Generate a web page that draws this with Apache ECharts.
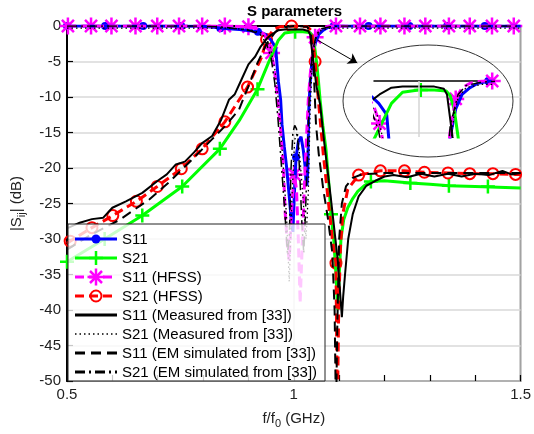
<!DOCTYPE html>
<html><head><meta charset="utf-8">
<script src="https://cdn.jsdelivr.net/npm/echarts@6/dist/echarts.min.js"></script>
<style>html,body{margin:0;padding:0;background:#fff}#c{width:534px;height:434px}</style>
</head><body><div id="c"></div>
<script>
// ---------------- data ----------------
const titleText = 'S parameters';
const xTickLabels = ['0.5', '1', '1.5'];
const yTickMin = -50, yTickMax = 0, yTickStep = 5;
const legendNames = ['S11', 'S21', 'S11 (HFSS)', 'S21 (HFSS)',
  'S11 (Measured from [33])', 'S21 (Measured from [33])',
  'S11 (EM simulated from [33])', 'S21 (EM simulated from [33])'];

// S11 (blue)
const s11F  = [0.5, 0.6, 0.7, 0.8, 0.841, 0.88, 0.922, 0.938, 0.95, 0.96, 0.966, 0.971, 0.974, 0.979, 0.984, 0.99, 0.995, 0.998, 1.001, 1.005, 1.01, 1.016, 1.021, 1.025, 1.027, 1.029, 1.031, 1.033, 1.036, 1.04, 1.047, 1.055, 1.065, 1.075, 1.09, 1.2, 1.3, 1.4, 1.5];
const s11Db = [0, 0, 0, -0.05, -0.3, -0.5, -0.8, -1.2, -2, -3, -7.8, -10.4, -13.9, -17, -19.8, -24, -27.7, -29, -24, -18.5, -16.3, -15.6, -17.5, -19.8, -22, -22.5, -20, -12, -8, -5, -2.5, -1.2, -0.6, -0.2, 0, 0, 0, 0, 0];
const s11MarkF  = [0.5, 0.584, 0.668, 0.752, 0.838, 0.921, 1.005, 1.088, 1.165, 1.255, 1.338, 1.421];
const s11MarkDb = [0, 0, 0, 0, -0.3, -0.8, -18.5, 0, 0, 0, 0, 0];

// S21 (green)
const s21F  = [0.5, 0.583, 0.666, 0.754, 0.837, 0.88, 0.92, 0.944, 0.966, 0.98, 1.0, 1.02, 1.035, 1.04, 1.045, 1.05, 1.054, 1.058, 1.064, 1.071, 1.077, 1.082, 1.088, 1.093, 1.097, 1.101, 1.104, 1.11, 1.119, 1.13, 1.141, 1.155, 1.17, 1.2, 1.257, 1.3, 1.342, 1.4, 1.45, 1.5];
const s21Db = [-33.2, -30, -26.7, -22.6, -17.3, -13.3, -8.9, -5.2, -2.0, -1.0, -0.8, -0.8, -0.9, -1.3, -2.5, -5, -7.5, -10.4, -14, -17.4, -22, -26.5, -30, -35, -40, -34, -30, -27.3, -25.6, -24.3, -23.3, -22.5, -21.9, -21.8, -22.1, -22.3, -22.5, -22.6, -22.7, -22.8];
const s21MarkF  = [0.5, 0.583, 0.666, 0.754, 0.837, 0.92, 1.003, 1.082, 1.17, 1.257, 1.342, 1.428];
const s21MarkDb = [-33.2, -30, -26.7, -22.6, -17.3, -8.9, -0.8, -26.5, -21.9, -22.1, -22.5, -22.6];

// S11 (HFSS) (magenta)
const s11hF  = [0.5, 0.7, 0.85, 0.9, 0.92, 0.935, 0.945, 0.951, 0.957, 0.963, 0.97, 0.977, 0.981, 0.986, 0.99, 0.995, 1.001, 1.006, 1.01, 1.014, 1.018, 1.021, 1.025, 1.032, 1.036, 1.04, 1.047, 1.055, 1.065, 1.08, 1.1, 1.2, 1.3, 1.4, 1.5];
const s11hDb = [0, 0, 0, -0.1, -0.4, -1.2, -2.5, -3.8, -6, -9.5, -13.9, -19.8, -26.3, -31, -33, -26, -20.9, -23, -30, -39, -32, -26.8, -19.8, -10.4, -7, -4.5, -1.6, -0.6, -0.2, 0, 0, 0, 0, 0, 0];
const s11hMarkF  = [0.502, 0.553, 0.598, 0.651, 0.699, 0.747, 0.798, 0.848, 0.9, 0.951, 1.001, 1.047, 1.093, 1.146, 1.191, 1.244, 1.29, 1.342, 1.388, 1.437, 1.485];
const s11hMarkDb = [0, 0, 0, 0, 0, 0, 0, 0, -0.1, -3.8, -20.9, -1.6, 0, 0, 0, 0, 0, 0, 0, 0, 0];

// S21 (HFSS) (red)
const s21hF  = [0.5, 0.507, 0.555, 0.601, 0.653, 0.699, 0.752, 0.798, 0.848, 0.898, 0.929, 0.94, 0.955, 0.97, 0.995, 1.03, 1.038, 1.042, 1.047, 1.055, 1.065, 1.075, 1.085, 1.093, 1.096, 1.099, 1.103, 1.108, 1.119, 1.143, 1.191, 1.244, 1.288, 1.34, 1.388, 1.439, 1.489, 1.5];
const s21hDb = [-30.6, -30.3, -28.4, -26.7, -24.7, -22.6, -20.1, -17.3, -13.5, -8.6, -4.4, -1.9, -0.5, -0.1, 0, -0.1, -0.6, -2, -5, -11, -18, -24, -30, -33.4, -55, -40, -31, -26.5, -23, -21, -20.4, -20.4, -20.6, -20.7, -20.8, -20.8, -20.9, -20.9];
const s21hMarkF  = [0.507, 0.555, 0.601, 0.653, 0.699, 0.752, 0.798, 0.848, 0.898, 0.94, 0.995, 1.047, 1.093, 1.143, 1.191, 1.244, 1.288, 1.34, 1.388, 1.439, 1.489];
const s21hMarkDb = [-30.3, -28.4, -26.7, -24.7, -22.6, -20.1, -17.3, -13.5, -8.6, -1.9, 0, -5, -33.4, -21, -20.4, -20.4, -20.6, -20.7, -20.8, -20.8, -20.9];

// Measured from [33] (solid black)
const measS11F  = [0.5, 0.528, 0.555, 0.58, 0.6, 0.63, 0.666, 0.7, 0.72, 0.74, 0.76, 0.78, 0.798, 0.82, 0.84, 0.857, 0.87, 0.885, 0.9, 0.915, 0.927, 0.94, 0.951, 0.966, 0.98, 1.0, 1.02, 1.032, 1.036, 1.043, 1.05, 1.058, 1.069, 1.082, 1.097, 1.106, 1.109, 1.113, 1.12, 1.13, 1.143, 1.16, 1.18, 1.2, 1.22, 1.25, 1.28, 1.31, 1.34, 1.37, 1.4, 1.43, 1.46, 1.48, 1.5];
const measS11Db = [-28.5, -27.7, -27.2, -27, -25.6, -24.7, -23.5, -21.8, -20.9, -19.5, -19.1, -17.8, -16.5, -15.5, -13.2, -10.4, -9.6, -7.5, -5.4, -4.3, -2.9, -1.8, -1.2, -0.6, -0.5, -0.5, -0.5, -0.7, -1.2, -5, -8.5, -11, -17.4, -24.4, -33, -41, -38, -35, -30, -26.5, -24, -22.5, -21.8, -21.2, -21.0, -21.3, -20.8, -21.2, -20.8, -21.2, -20.8, -21.0, -20.4, -20.9, -20.7];
// Measured from [33] (dotted black)
const measS21F  = [0.5, 0.85, 0.9, 0.93, 0.948, 0.958, 0.966, 0.975, 0.984, 0.99, 0.996, 1.002, 1.008, 1.014, 1.02, 1.027, 1.032, 1.036, 1.04, 1.045, 1.05, 1.06, 1.08, 1.5];
const measS21Db = [-0.3, -0.3, -0.5, -1, -3, -6, -10.4, -18, -26.8, -36, -24, -16, -15, -19, -24, -30, -23.5, -12, -6, -3, -1.5, -0.6, -0.3, -0.3];
// EM simulated from [33] (dashed black)
const emS11F  = [0.5, 0.55, 0.616, 0.682, 0.725, 0.776, 0.819, 0.85, 0.879, 0.9, 0.92, 0.94, 0.96, 0.975, 1.0, 1.03, 1.038, 1.043, 1.049, 1.055, 1.065, 1.075, 1.085, 1.09, 1.093, 1.096, 1.1, 1.106, 1.115, 1.13, 1.15, 1.2, 1.3, 1.4, 1.5];
const emS11Db = [-31.5, -29.5, -27.3, -24.4, -22, -18.8, -16, -14, -11.8, -8.5, -5.2, -2.5, -0.8, -0.2, 0, -0.1, -1.2, -5, -13.9, -18, -23, -27, -32, -40, -55, -42, -30, -25, -22.6, -21.4, -20.9, -20.7, -20.7, -20.7, -20.7];
// EM simulated from [33] (dash-dot black)
const emS21F  = [0.5, 0.8, 0.85, 0.9, 0.925, 0.94, 0.95, 0.958, 0.965, 0.972, 0.98, 0.986, 0.99, 0.994, 0.998, 1.002, 1.006, 1.01, 1.014, 1.018, 1.022, 1.026, 1.03, 1.034, 1.04, 1.05, 1.06, 1.08, 1.1, 1.5];
const emS21Db = [0, 0, -0.2, -0.6, -1.1, -2.5, -4.5, -8, -13, -19, -26, -32, -30, -20, -15, -14, -14.5, -17, -22, -28, -32, -26, -18, -10, -4, -1.2, -0.4, -0.1, 0, 0];

// ---------------- helpers ----------------
const FONT = '"Liberation Sans", Arial, Helvetica, sans-serif';
const pairs = (a, b) => a.map((v, i) => [v, b[i]]);
const ASTER = 'path://M0,-10L0,10M-10,0L10,0M-7.07,-7.07L7.07,7.07M-7.07,7.07L7.07,-7.07';
const PLUS = 'path://M0,-10L0,10M-10,0L10,0';

const curves = [
  {name: legendNames[0], f: s11F, d: s11Db, mf: s11MarkF, md: s11MarkDb, color: '#0000ff', w: 3, dash: 'solid',
    sym: 'circle', size: 8, fill: '#0000ff', bw: 0, inset: true},
  {name: legendNames[1], f: s21F, d: s21Db, mf: s21MarkF, md: s21MarkDb, color: '#00ff00', w: 3, dash: 'solid',
    sym: PLUS, size: 14, fill: 'rgba(0,0,0,0)', bw: 2.5, inset: true},
  {name: legendNames[2], f: s11hF, d: s11hDb, mf: s11hMarkF, md: s11hMarkDb, color: '#ff00ff', w: 3, dash: [9, 5],
    sym: ASTER, size: 17, fill: 'rgba(0,0,0,0)', bw: 2.5, inset: true},
  {name: legendNames[3], f: s21hF, d: s21hDb, mf: s21hMarkF, md: s21hMarkDb, color: '#ff0000', w: 3, dash: [9, 5],
    sym: 'circle', size: 11, fill: 'rgba(0,0,0,0)', bw: 2, inset: false},
  {name: legendNames[4], f: measS11F, d: measS11Db, color: '#000', w: 2, dash: 'solid', inset: true},
  {name: legendNames[5], f: measS21F, d: measS21Db, color: '#000', w: 1.3, dash: [1.5, 3], inset: true},
  {name: legendNames[6], f: emS11F, d: emS11Db, color: '#000', w: 2, dash: [10, 6], inset: false},
  {name: legendNames[7], f: emS21F, d: emS21Db, color: '#000', w: 1.5, dash: [10, 4, 2, 4], inset: true}
];

function buildSeries(xi, yi, insetOnly) {
  const out = [];
  curves.forEach(c => {
    if (insetOnly && !c.inset) return;
    out.push({type: 'line', name: c.name, xAxisIndex: xi, yAxisIndex: yi, data: pairs(c.f, c.d),
      showSymbol: false, symbol: 'none', smooth: false, silent: true, clip: true,
      lineStyle: {color: c.color, width: c.w, type: c.dash, cap: 'butt'}});
    if (c.mf) {
      out.push({type: 'scatter', name: c.name, xAxisIndex: xi, yAxisIndex: yi, data: pairs(c.mf, c.md),
        symbol: c.sym, symbolSize: c.size, silent: true, clip: true,
        itemStyle: {color: c.fill, borderColor: c.color, borderWidth: c.bw, opacity: 1}});
    }
  });
  return out;
}

const series = buildSeries(0, 0, false).concat(buildSeries(2, 1, true));
// arrow pointing to the zoomed view
series.push({type: 'line', xAxisIndex: 0, yAxisIndex: 0, data: [], silent: true,
  markLine: {silent: true, symbol: ['none', 'arrow'], symbolSize: 9, label: {show: false},
    lineStyle: {color: '#000', width: 1, type: 'solid'},
    data: [[{coord: [1.052, -1.97]}, {coord: [1.14, -5.2]}]]}});
// grid line at f/f0 = 1 inside zoomed view
series.push({type: 'line', xAxisIndex: 2, yAxisIndex: 1, data: [], silent: true, z: 1,
  markLine: {silent: true, symbol: ['none', 'none'], label: {show: false},
    lineStyle: {color: '#d4d4d4', width: 1.5, type: 'solid'}, data: [{xAxis: 1}]}});

// ---------------- legend (graphic) ----------------
const LX = 68, LY = 224, LW = 257, LH = 157;
const g = [{type: 'rect', z: 100, shape: {x: LX, y: LY, width: LW, height: LH},
  style: {fill: 'rgba(255,255,255,0.78)', stroke: '#222', lineWidth: 1}}];
curves.forEach((c, i) => {
  const y = 239 + i * 19;
  g.push({type: 'line', z: 101, shape: {x1: 75, y1: y, x2: 117, y2: y},
    style: {stroke: c.color, lineWidth: c.w === 1.3 ? 1.3 : 3, lineDash: c.dash === 'solid' ? null : c.dash}});
  const cx = 96;
  if (i === 0) g.push({type: 'circle', z: 102, shape: {cx, cy: y, r: 4.5}, style: {fill: c.color}});
  if (i === 1) {
    g.push({type: 'line', z: 102, shape: {x1: cx - 7, y1: y, x2: cx + 7, y2: y}, style: {stroke: c.color, lineWidth: 2.5}});
    g.push({type: 'line', z: 102, shape: {x1: cx, y1: y - 7, x2: cx, y2: y + 7}, style: {stroke: c.color, lineWidth: 2.5}});
  }
  if (i === 2) {
    [[8.5, 0], [0, 8.5], [6, 6], [6, -6]].forEach(([dx, dy]) =>
      g.push({type: 'line', z: 102, shape: {x1: cx - dx, y1: y - dy, x2: cx + dx, y2: y + dy}, style: {stroke: c.color, lineWidth: 2.5}}));
  }
  if (i === 3) g.push({type: 'circle', z: 102, shape: {cx, cy: y, r: 5.5}, style: {fill: 'none', stroke: c.color, lineWidth: 2}});
  g.push({type: 'text', z: 102, style: {text: c.name, x: 122, y: y + 1, fill: '#000', font: '15px ' + FONT, verticalAlign: 'middle'}});
});
g.push({type: 'ellipse', z: 50, shape: {cx: 428, cy: 101, rx: 85, ry: 56}, style: {fill: 'none', stroke: '#333', lineWidth: 1}});

// ---------------- chart ----------------
const chart = echarts.init(document.getElementById('c'), null, {renderer: 'canvas'});
const axisText = {fontSize: 15, color: '#222', fontFamily: FONT};
chart.setOption({
  animation: false,
  backgroundColor: '#fff',
  title: {text: titleText, left: 247, top: 4, padding: 0,
    textStyle: {fontSize: 15, fontWeight: 'bold', color: '#000', fontFamily: FONT}},
  grid: [
    {left: 67, top: 26, width: 457, height: 355, show: true, borderColor: '#000', borderWidth: 1.5, backgroundColor: 'transparent'},
    {left: 374, top: 81, width: 119, height: 56, show: false}
  ],
  xAxis: [
    {type: 'value', gridIndex: 0, min: 0.5, max: 1.5, interval: 0.5,
      axisLine: {show: true, lineStyle: {color: '#000', width: 2}},
      axisTick: {show: false},
      axisLabel: Object.assign({margin: 6, formatter: (v) => xTickLabels[Math.round((v - 0.5) / 0.5)] || ''}, axisText),
      splitLine: {show: true, lineStyle: {color: '#d9d9d9', width: 1.5}},
      name: '{a|f/f}{b|0}{a| (GHz)}', nameLocation: 'middle', nameGap: 28,
      nameTextStyle: {rich: {a: {fontSize: 15, color: '#222', fontFamily: FONT},
        b: {fontSize: 11, color: '#222', fontFamily: FONT, padding: [9, 0, 0, 0]}}}},
    {type: 'value', gridIndex: 0, min: 0.5, max: 1.5, interval: 0.1, position: 'bottom',
      axisLine: {show: false}, axisLabel: {show: false}, splitLine: {show: false},
      axisTick: {show: true, inside: true, length: 6, lineStyle: {color: '#000', width: 1.2}}},
    {type: 'value', gridIndex: 1, min: 0.944, max: 1.094, position: 'top',
      axisLine: {show: true, lineStyle: {color: '#000', width: 1.5}}, axisTick: {show: false},
      axisLabel: {show: false}, splitLine: {show: false}}
  ],
  yAxis: [
    {type: 'value', gridIndex: 0, min: yTickMin, max: yTickMax, interval: yTickStep,
      axisLine: {show: true, lineStyle: {color: '#000', width: 2}},
      axisTick: {show: true, inside: true, length: 6, lineStyle: {color: '#000', width: 1.2}},
      axisLabel: Object.assign({margin: 6}, axisText),
      splitLine: {show: true, lineStyle: {color: '#d9d9d9', width: 1.5}},
      name: '{a||S}{b|ij}{a|| (dB)}', nameLocation: 'middle', nameGap: 40,
      nameTextStyle: {rich: {a: {fontSize: 15, color: '#222', fontFamily: FONT},
        b: {fontSize: 11, color: '#222', fontFamily: FONT, padding: [9, 0, 0, 0]}}}},
    {type: 'value', gridIndex: 1, min: -5, max: 0, show: false}
  ],
  graphic: g,
  series: series
});
</script></body></html>
